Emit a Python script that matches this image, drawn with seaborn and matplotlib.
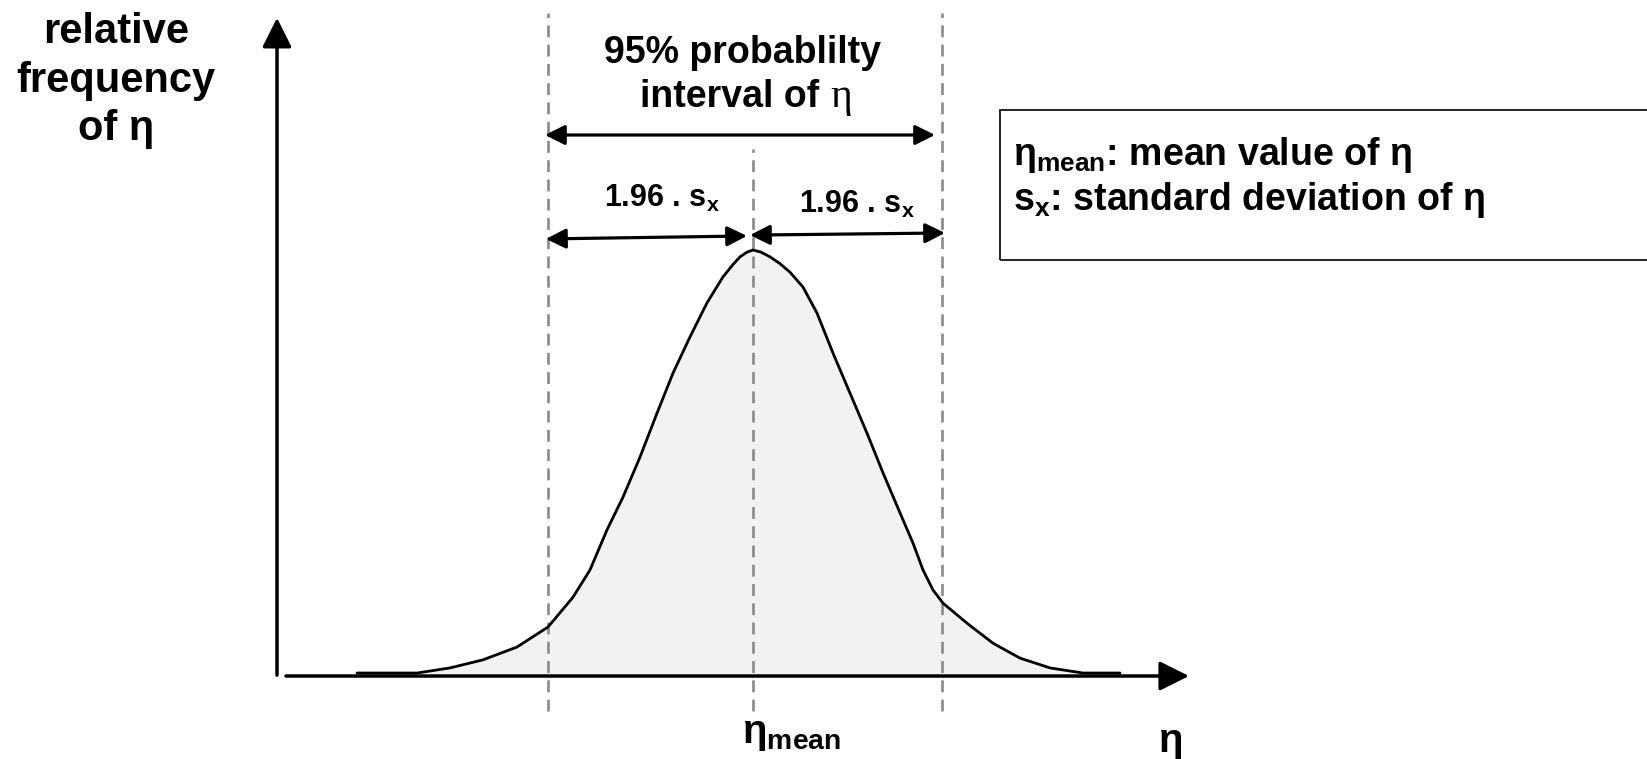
import numpy as np
import pandas as pd
import matplotlib
matplotlib.use("Agg")
import matplotlib.pyplot as plt
from matplotlib.patches import Rectangle
import seaborn as sns

# distribution of eta (x relative to eta_mean, y relative to the peak)
eta = [-3.96, -3.60, -3.36, -3.03, -2.70, -2.36, -2.05, -1.80, -1.63, -1.46, -1.30, -1.13,
       -0.96, -0.80, -0.63, -0.46, -0.30, -0.20, -0.13, -0.06, 0.00, 0.08, 0.17, 0.27, 0.37,
       0.50, 0.64, 0.80, 0.97, 1.14, 1.30, 1.47, 1.60, 1.70, 1.80, 1.90, 2.14, 2.40, 2.67,
       2.97, 3.30, 3.67]
freq = [0.007, 0.007, 0.007, 0.019, 0.038, 0.068, 0.115, 0.185, 0.249, 0.343, 0.420, 0.514,
        0.617, 0.711, 0.796, 0.876, 0.937, 0.966, 0.984, 0.995, 1.000, 0.995, 0.984, 0.968,
        0.948, 0.913, 0.852, 0.758, 0.664, 0.570, 0.477, 0.383, 0.312, 0.249, 0.202, 0.171,
        0.124, 0.077, 0.042, 0.019, 0.007, 0.007]

eta_mean = 0.0
ci_low = -2.05
ci_high = 1.89

ylabel_lines = ["relative", "frequency", "of \u03b7"]
title_lines = ["95% probablilty", "interval of"]
half_label = r"1.96 . s$_{\mathrm{x}}$"
legend_lines = ["\u03b7$_{\\mathrm{mean}}$: mean value of \u03b7",
                "s$_{\\mathrm{x}}$: standard deviation of \u03b7"]

df = pd.DataFrame({"eta": eta, "freq": freq})

sns.set_theme(style="white")
plt.rcParams["font.family"] = ["Liberation Sans", "DejaVu Sans"]
plt.rcParams["font.weight"] = "bold"
plt.rcParams["text.color"] = "black"
plt.rcParams["mathtext.fontset"] = "custom"
plt.rcParams["mathtext.rm"] = "Liberation Sans:bold"
plt.rcParams["mathtext.it"] = "Liberation Sans:bold"
plt.rcParams["mathtext.bf"] = "Liberation Sans:bold"

fig = plt.figure(figsize=(16.47, 7.59), dpi=100)
ax = fig.add_axes([0, 0, 1, 1])
ax.set_xlim(-7.53, 8.94)
ax.set_ylim(-0.1948, 1.5869)
ax.axis("off")

# curve + grey fill
ax.fill_between(df["eta"], 0, df["freq"], color="#f2f2f2", lw=0, zorder=1)
sns.lineplot(data=df, x="eta", y="freq", ax=ax, color="black", lw=2.0, sort=False, zorder=3)

# dashed guides
dash = dict(color="#8a8a8a", lw=1.9, ls=(0, (4.5, 2.8)), zorder=2)
ax.plot([ci_low, ci_low], [-0.082, 1.556], **dash)
ax.plot([ci_high, ci_high], [-0.082, 1.556], **dash)
ax.plot([eta_mean, eta_mean], [-0.082, 1.237], **dash)

# axes arrows
big = dict(arrowstyle="-|>,head_length=0.5,head_width=0.25", lw=2.5, color="black",
           mutation_scale=36, shrinkA=0, shrinkB=0)
ax.annotate("", xy=(-4.76, 1.545), xytext=(-4.76, 0.002), arrowprops=big, zorder=4)
ax.annotate("", xy=(4.36, 0.0), xytext=(-4.67, 0.0), arrowprops=big, zorder=4)

# interval arrows
dbl = dict(arrowstyle="<|-|>,head_length=0.5,head_width=0.25", lw=2.3, color="black",
           mutation_scale=24, shrinkA=0, shrinkB=0)
ax.annotate("", xy=(1.82, 1.270), xytext=(-2.08, 1.270), arrowprops=dbl)
ax.annotate("", xy=(-0.06, 1.033), xytext=(-2.07, 1.026), arrowprops=dbl)
ax.annotate("", xy=(1.92, 1.040), xytext=(-0.03, 1.035), arrowprops=dbl)

# texts
for line, yb in zip(ylabel_lines, [1.486, 1.371, 1.258]):
    ax.text(-6.37, yb, line, ha="center", va="baseline", fontsize=30, fontweight="bold")

ax.text(-0.11, 1.439, title_lines[0], ha="center", va="baseline", fontsize=27, fontweight="bold")
ax.text(0.66, 1.336, title_lines[1], ha="right", va="baseline", fontsize=27, fontweight="bold")
ax.text(0.77, 1.336, "\u03b7", ha="left", va="baseline", fontsize=30,
        family="Liberation Serif", fontweight="normal")

ax.text(-0.91, 1.101, half_label, ha="center", va="baseline", fontsize=22, fontweight="bold")
ax.text(1.04, 1.087, half_label, ha="center", va="baseline", fontsize=22, fontweight="bold")

ax.text(-0.11, -0.157, "\u03b7$_{\\mathrm{mean}}$", ha="left", va="baseline", fontsize=29,
        fontweight="bold")
ax.text(4.06, -0.178, "\u03b7", ha="left", va="baseline", fontsize=29, fontweight="bold")

# legend box
ax.add_patch(Rectangle((2.47, 0.977), 6.7, 0.352, fill=False, ec="black", lw=1.2, clip_on=False))
ax.text(2.60, 1.200, legend_lines[0], ha="left", va="baseline", fontsize=27, fontweight="bold")
ax.text(2.60, 1.093, legend_lines[1], ha="left", va="baseline", fontsize=27, fontweight="bold")

fig.savefig("out.png", dpi=100, facecolor="white")
